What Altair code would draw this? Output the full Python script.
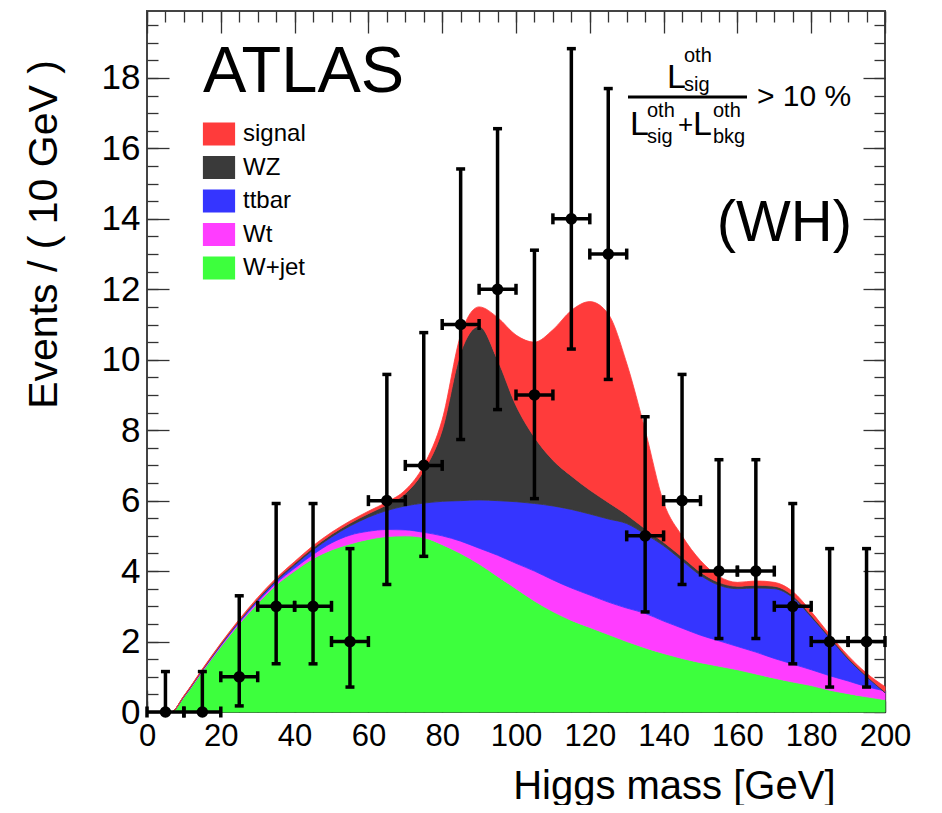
import altair as alt
import pandas as pd

# ---------------- data ----------------
mass_grid = [0, 6.5, 10, 15, 20, 25, 30, 35, 40, 45, 50, 55, 60, 65, 70, 75, 80, 85, 90, 95,
             100, 105, 110, 115, 120, 125, 130, 135, 140, 145, 150, 155, 160, 165, 170, 175,
             180, 185, 190, 195, 200]

# cumulative upper edges of each stacked component
wjet_top = [0, 0, 0.42, 1.15, 1.85, 2.5, 3.08, 3.6, 4.0, 4.35, 4.6, 4.77, 4.9, 4.98, 5.0, 4.95,
            4.75, 4.5, 4.2, 3.85, 3.5, 3.15, 2.85, 2.6, 2.4, 2.2, 2.0, 1.82, 1.66, 1.52, 1.4,
            1.3, 1.2, 1.08, 0.96, 0.85, 0.75, 0.62, 0.52, 0.43, 0.35]
wt_top = [0, 0, 0.43, 1.17, 1.88, 2.54, 3.13, 3.66, 4.08, 4.47, 4.8, 5.02, 5.13, 5.18, 5.17, 5.1,
          5.0, 4.85, 4.65, 4.45, 4.22, 4.0, 3.75, 3.52, 3.32, 3.12, 2.95, 2.8, 2.58, 2.38, 2.18,
          2.02, 1.86, 1.7, 1.52, 1.36, 1.2, 1.03, 0.88, 0.72, 0.6]
ttbar_top = [0, 0, 0.44, 1.19, 1.91, 2.58, 3.18, 3.72, 4.17, 4.6, 4.97, 5.28, 5.53, 5.72, 5.85,
             5.93, 5.98, 6.0, 6.02, 6.0, 5.97, 5.92, 5.85, 5.75, 5.62, 5.48, 5.35, 5.05, 4.72,
             4.3, 3.88, 3.6, 3.5, 3.52, 3.5, 3.25, 2.7, 2.1, 1.5, 1.0, 0.55]
wz_top = [0, 0, 0.45, 1.2, 1.93, 2.6, 3.21, 3.76, 4.22, 4.66, 5.04, 5.36, 5.63, 5.88, 6.2, 6.85,
          8.0, 10.2, 10.95, 10.0, 8.7, 7.8, 7.15, 6.7, 6.3, 5.95, 5.6, 5.2, 4.82, 4.4, 3.97,
          3.68, 3.57, 3.6, 3.57, 3.31, 2.75, 2.14, 1.54, 1.03, 0.58]
signal_top = [0, 0, 0.46, 1.22, 1.95, 2.63, 3.25, 3.8, 4.27, 4.72, 5.1, 5.42, 5.7, 5.96, 6.3,
              7.0, 8.3, 10.7, 11.5, 11.2, 10.7, 10.5, 10.85, 11.4, 11.65, 11.3, 9.9, 8.0, 5.95,
              5.0, 4.3, 3.85, 3.68, 3.72, 3.68, 3.42, 2.85, 2.2, 1.6, 1.1, 0.72]

bin_centers = [5, 15, 25, 35, 45, 55, 65, 75, 85, 95, 105, 115, 125, 135, 145, 155, 165, 175, 185, 195]
bin_half_width = 5
events = [0, 0, 1, 3, 3, 2, 6, 7, 11, 12, 9, 14, 13, 5, 6, 4, 4, 3, 2, 2]
err_low = [0, 0, 0.173, 1.367, 1.367, 0.708, 3.62, 4.419, 7.735, 8.585, 6.057, 10.303, 9.441,
           2.841, 3.62, 2.086, 2.086, 1.367, 0.708, 0.708]
err_high = [1.148, 1.148, 3.299, 5.918, 5.918, 4.638, 9.583, 10.77, 15.416, 16.559, 13.11,
            18.831, 17.698, 8.382, 9.583, 7.162, 7.162, 5.918, 4.638, 4.638]

components = ["signal", "WZ", "ttbar", "Wt", "W+jet"]
comp_colors = ["#ff3b3b", "#3a3a3a", "#3535ff", "#ff3dff", "#3dff3d"]

x_major = list(range(0, 201, 20))
x_minor = list(range(0, 201, 5))
y_major = list(range(0, 19, 2))
y_minor = [i * 0.5 for i in range(40)]

# ---------------- tables ----------------
zeros = [0] * len(mass_grid)
bounds = [("W+jet", zeros, wjet_top), ("Wt", wjet_top, wt_top), ("ttbar", wt_top, ttbar_top),
          ("WZ", ttbar_top, wz_top), ("signal", wz_top, signal_top)]
rows = []
for comp, lo, hi in bounds:
    for m, a, b in zip(mass_grid, lo, hi):
        rows.append({"mass": m, "component": comp, "lower": a, "upper": b})
area_df = pd.DataFrame(rows)

pts_df = pd.DataFrame({
    "mass": bin_centers,
    "n": events,
    "lo": err_low,
    "hi": err_high,
    "xlo": [c - bin_half_width for c in bin_centers],
    "xhi": [c + bin_half_width for c in bin_centers],
})

REG = "Liberation Sans, Arial, Helvetica, sans-serif"
INK = "#000000"
TICK = "#333333"

x_scale = alt.Scale(domain=[0, 200], nice=False, zero=False)
y_scale = alt.Scale(domain=[0, 19.9], nice=False, zero=False)


def tick_axis(orient, values, length):
    return alt.Axis(orient=orient, values=values, offset=-length, tickSize=length,
                    tickWidth=1.3, tickColor=TICK, labels=False, domain=False,
                    grid=False, title="")


# ---------------- layers ----------------
area = alt.Chart(area_df).mark_area(interpolate="monotone", opacity=1, strokeWidth=0.8).encode(
    x=alt.X("mass:Q", scale=x_scale,
            axis=alt.Axis(orient="bottom", values=x_major, labelFont=REG, labelFontSize=31,
                          labelPadding=9, labelColor=INK, labelFlush=False, labelOverlap=False,
                          ticks=False, domain=False, grid=False,
                          title="Higgs mass [GeV]", titleFont=REG, titleFontSize=40,
                          titleFontWeight="normal", titleColor=INK, titleX=688, titleY=86,
                          titleAlign="right", titleBaseline="alphabetic")),
    y=alt.Y("upper:Q", scale=y_scale,
            axis=alt.Axis(orient="left", values=y_major, labelFont=REG, labelFontSize=35,
                          labelPadding=7, labelColor=INK, labelOverlap=False, labelFlush=False,
                          ticks=False, domain=False, grid=False,
                          title="Events / ( 10 GeV )", titleFont=REG, titleFontSize=41,
                          titleFontWeight="normal", titleColor=INK, titleAngle=270,
                          titleX=-91, titleY=223, titleAlign="center",
                          titleBaseline="alphabetic")),
    y2="lower:Q",
    color=alt.Color("component:N", scale=alt.Scale(domain=components, range=comp_colors),
                    legend=alt.Legend(orient="none", legendX=60, legendY=111, title=None,
                                      symbolType="M-1.4,-1H1.4V1H-1.4Z", symbolSize=529,
                                      symbolStrokeWidth=0, symbolOpacity=1,
                                      labelFont=REG, labelFontSize=24, labelColor=INK,
                                      labelOffset=12, rowPadding=9.5, padding=0)),
    stroke=alt.Stroke("component:N", scale=alt.Scale(domain=components, range=comp_colors),
                      legend=None),
)

vbar = alt.Chart(pts_df).mark_rule(strokeWidth=3.5, color="black").encode(
    x=alt.X("mass:Q", scale=x_scale, axis=tick_axis("bottom", x_major, 22)),
    y=alt.Y("lo:Q", scale=y_scale, axis=tick_axis("left", y_major, 22)),
    y2="hi:Q",
)

hbar = alt.Chart(pts_df).mark_rule(strokeWidth=3.5, color="black").encode(
    x=alt.X("xlo:Q", scale=x_scale, axis=tick_axis("bottom", x_minor, 11)),
    x2="xhi:Q",
    y=alt.Y("n:Q", scale=y_scale, axis=tick_axis("left", y_minor, 11)),
)

vcap = alt.Chart(pts_df).transform_fold(["lo", "hi"], as_=["end", "yv"]).mark_tick(
    orient="horizontal", size=9, thickness=3.5, color="black", opacity=1).encode(
    x=alt.X("mass:Q", scale=x_scale, axis=tick_axis("top", x_major, 22)),
    y=alt.Y("yv:Q", scale=y_scale, axis=tick_axis("right", y_major, 22)),
)

hcap = alt.Chart(pts_df).transform_fold(["xlo", "xhi"], as_=["end", "xv"]).mark_tick(
    orient="vertical", size=11, thickness=3.5, color="black", opacity=1).encode(
    x=alt.X("xv:Q", scale=x_scale, axis=tick_axis("top", x_minor, 11)),
    y=alt.Y("n:Q", scale=y_scale, axis=tick_axis("right", y_minor, 11)),
)

points = alt.Chart(pts_df).mark_circle(size=135, color="black", opacity=1).encode(
    x=alt.X("mass:Q", scale=x_scale, axis=None),
    y=alt.Y("n:Q", scale=y_scale, axis=None),
)

one = pd.DataFrame({"k": [0]})


def txt(s, x, y, size, align="left", font=REG):
    return alt.Chart(one).mark_text(text=s, font=font, fontSize=size, align=align,
                                    baseline="alphabetic", color=INK).encode(
        x=alt.value(x), y=alt.value(y))


annotations = [
    txt("ATLAS", 56, 81, 65),
    txt("(WH)", 705, 230, 58, align="right"),
    txt("L", 520, 77, 34),
    txt("oth", 537, 51, 20),
    txt("sig", 537, 80, 20),
    txt("L", 483, 124, 34),
    txt("oth", 500, 106, 20),
    txt("sig", 500, 132, 20),
    txt("+", 531, 122, 26),
    txt("L", 546, 124, 34),
    txt("oth", 566, 106, 20),
    txt("bkg", 566, 132, 20),
    txt("> 10 %", 610, 95, 30),
    alt.Chart(one).mark_rule(strokeWidth=3, color=INK).encode(
        x=alt.value(481), x2=alt.value(600), y=alt.value(86)),
]

chart = alt.layer(area, vbar, hbar, vcap, hcap, points, *annotations).resolve_axis(
    x="independent", y="independent"
).properties(
    width=738, height=701,
    padding={"left": 139, "top": 3, "right": 49, "bottom": 93},
    autosize=alt.AutoSizeParams(type="none"),
).configure_view(stroke="#444444", strokeWidth=2)

chart.save("out.html", embed_options={"renderer": "svg", "actions": False})
